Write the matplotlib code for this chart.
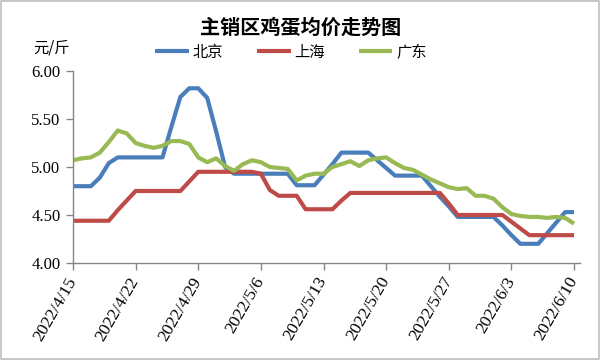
import matplotlib
matplotlib.use("Agg")
import matplotlib.pyplot as plt
import matplotlib.dates as mdates
import matplotlib.transforms as mtransforms
from matplotlib.patches import Rectangle
import pandas as pd
import numpy as np

start_date = "2022-04-15"
end_date = "2022-06-10"

beijing = [4.80, 4.80, 4.80, 4.89, 5.04, 5.10, 5.10, 5.10, 5.10, 5.10,
           5.10, 5.42, 5.73, 5.82, 5.82, 5.72, 5.37, 5.00, 4.93, 4.93,
           4.93, 4.93, 4.93, 4.93, 4.93, 4.81, 4.81, 4.81, 4.92, 5.03,
           5.15, 5.15, 5.15, 5.15, 5.07, 4.99, 4.91, 4.91, 4.91, 4.91,
           4.80, 4.69, 4.59, 4.48, 4.48, 4.48, 4.48, 4.48, 4.39, 4.29,
           4.20, 4.20, 4.20, 4.31, 4.42, 4.53, 4.53]
shanghai = [4.44, 4.44, 4.44, 4.44, 4.44, 4.55, 4.65, 4.75, 4.75, 4.75,
            4.75, 4.75, 4.75, 4.85, 4.95, 4.95, 4.95, 4.95, 4.95, 4.95,
            4.95, 4.93, 4.76, 4.70, 4.70, 4.70, 4.56, 4.56, 4.56, 4.56,
            4.65, 4.73, 4.73, 4.73, 4.73, 4.73, 4.73, 4.73, 4.73, 4.73,
            4.73, 4.73, 4.62, 4.50, 4.50, 4.50, 4.50, 4.50, 4.50, 4.43,
            4.36, 4.29, 4.29, 4.29, 4.29, 4.29, 4.29]
guangdong = [5.07, 5.09, 5.10, 5.15, 5.26, 5.38, 5.35, 5.25, 5.22, 5.20,
             5.22, 5.27, 5.27, 5.24, 5.10, 5.05, 5.09, 5.01, 4.96, 5.03,
             5.07, 5.05, 5.00, 4.99, 4.98, 4.86, 4.91, 4.93, 4.93, 5.00,
             5.03, 5.06, 5.01, 5.07, 5.09, 5.10, 5.04, 4.99, 4.97, 4.92,
             4.87, 4.83, 4.79, 4.77, 4.78, 4.70, 4.70, 4.67, 4.58, 4.51,
             4.49, 4.48, 4.48, 4.47, 4.48, 4.47, 4.41]

series_names = ["北京", "上海", "广东"]
series_colors = ["#4A7EBB", "#BE4B48", "#98B954"]
title_text = "主销区鸡蛋均价走势图"
unit_text = "元/斤"
y_ticks = [4.00, 4.50, 5.00, 5.50, 6.00]

dates = pd.date_range(start_date, end_date, freq="D")
tick_dates = dates[::7]

cjk = ["Noto Sans CJK SC", "DejaVu Sans"]
serif = ["Liberation Serif", "DejaVu Serif"]

fig = plt.figure(figsize=(6, 3.6), dpi=100)
ax = fig.add_axes([73 / 600, 1 - 263 / 360, (580 - 73) / 600, (263 - 71) / 360])

for vals, name, col in zip([beijing, shanghai, guangdong], series_names, series_colors):
    ax.plot(dates, vals, color=col, lw=3.0, label=name, solid_joinstyle="round",
            solid_capstyle="butt")

ax.set_ylim(4.0, 6.0)
ax.set_yticks(y_ticks)
ax.set_yticklabels([f"{v:.2f}" for v in y_ticks], fontfamily=serif, fontsize=12)
ax.set_xlim(dates[0], dates[-1] + pd.Timedelta(hours=16))
ax.set_xticks(tick_dates)
ax.set_xticklabels([f"{d.year}/{d.month}/{d.day}" for d in tick_dates],
                   fontfamily=serif, fontsize=12.5, rotation=60, ha="right",
                   va="center", rotation_mode="anchor")
offset = mtransforms.ScaledTranslation(8 / 100, -10 / 100, fig.dpi_scale_trans)
for lab in ax.get_xticklabels():
    lab.set_transform(lab.get_transform() + offset)

for s in ["top", "right"]:
    ax.spines[s].set_visible(False)
for s in ["left", "bottom"]:
    ax.spines[s].set_color("#868686")
    ax.spines[s].set_linewidth(1.0)
ax.tick_params(axis="both", colors="#868686", length=5, width=1.0, labelcolor="black")
ax.tick_params(axis="y", pad=4)
ax.tick_params(axis="x", pad=6)

fig.text(301 / 600, 1 - 27 / 360, title_text, ha="center", va="center",
         fontsize=14.5, fontweight="bold", fontfamily=cjk)
fig.text(52 / 600, 1 - 48 / 360, unit_text, ha="center", va="center",
         fontsize=11, fontfamily=cjk)

leg = fig.legend(loc="center", bbox_to_anchor=(291 / 600, 1 - 52 / 360), ncol=3,
                 frameon=False, prop={"family": cjk, "size": 11},
                 handlelength=2.2, handletextpad=0.25, columnspacing=2.2)
for t in leg.get_texts():
    t.set_color("black")

fig.patches.append(Rectangle((0.0015, 0.0025), 0.997, 0.995, transform=fig.transFigure,
                             fill=False, edgecolor="#BFBFBF", lw=1.2))

fig.savefig("out.png", dpi=100)
